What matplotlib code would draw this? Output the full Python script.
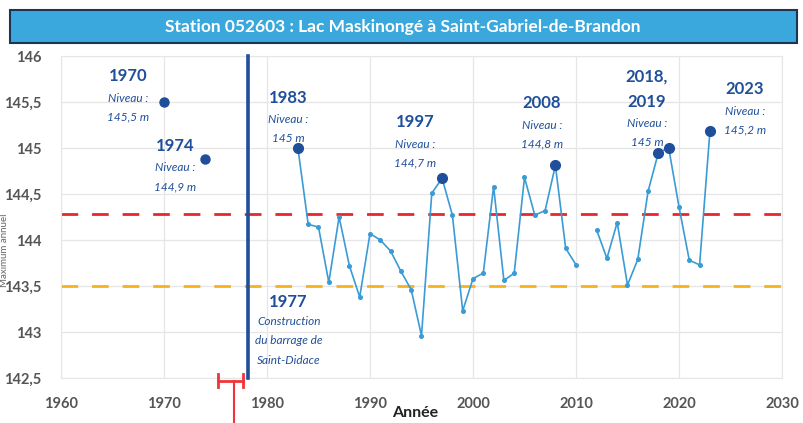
import numpy as np
import matplotlib
matplotlib.use("Agg")
import matplotlib.pyplot as plt
from matplotlib.patches import Rectangle
from matplotlib.ticker import FuncFormatter, MultipleLocator

# ---- data ----
years = list(range(1983, 2024))
levels = [145.0, 144.17, 144.14, 143.54, 144.25, 143.72, 143.38, 144.07, 144.0, 143.88,
          143.66, 143.46, 142.96, 144.51, 144.67, 144.27, 143.23, 143.58, 143.64, 144.58,
          143.56, 143.64, 144.68, 144.27, 144.32, 144.81, 143.91, 143.73, np.nan, 144.11,
          143.80, 144.19, 143.51, 143.79, 144.53, 144.95, 145.0, 144.36, 143.78, 143.73,
          145.18]
early_years = [1970, 1974]
early_levels = [145.5, 144.88]
highlight_years = [1983, 1997, 2008, 2018, 2019, 2023]
red_threshold = 144.28
orange_threshold = 143.5
dam_year = 1978.2
x_ticks = [1960, 1970, 1980, 1990, 2000, 2010, 2020, 2030]
y_ticks = [142.5, 143, 143.5, 144, 144.5, 145, 145.5, 146]
title = "Station 052603 : Lac Maskinongé à Saint-Gabriel-de-Brandon"

W, H = 804, 423
DARK = "#1f4f9a"
LIGHT = "#3a9bd5"
FONT = ["Lato", "DejaVu Sans"]
plt.rcParams["font.family"] = FONT

fig = plt.figure(figsize=(W / 100, H / 100), dpi=100)
L, R, T, B = 61, 782, 56, 378
ax = fig.add_axes([L / W, 1 - B / H, (R - L) / W, (B - T) / H])
ax.set_xlim(1960, 2030)
ax.set_ylim(142.5, 146)

def px(x, y):
    """figure pixel -> data coords"""
    xd = 1960 + (x - L) / (R - L) * 70
    yd = 146 - (y - T) / (B - T) * 3.5
    return xd, yd

ax.set_yticks(y_ticks)
ax.set_xticks(x_ticks)
ax.yaxis.set_major_formatter(FuncFormatter(lambda v, p: (f"{v:g}").replace(".", ",")))
ax.grid(True, color="#e6e6e6", lw=0.9)
ax.set_axisbelow(True)
for s in ax.spines.values():
    s.set_color("#e6e6e6")
ax.tick_params(length=0, labelsize=10.5, colors="#555555", pad=14)
for lab in ax.get_xticklabels() + ax.get_yticklabels():
    lab.set_fontweight("bold")

# thresholds
ax.axhline(red_threshold, color="#e8262b", lw=2, dashes=(6, 5))
ax.axhline(orange_threshold, color="#f7b21c", lw=2, dashes=(6, 5))

# main series
ax.plot(years, levels, color=LIGHT, lw=1.2, marker="o", ms=2.6, zorder=3)
hl = [levels[years.index(y)] for y in highlight_years]
ax.plot(highlight_years, hl, "o", color=DARK, ms=7, zorder=4, ls="none")
ax.plot(early_years, early_levels, "o", color=DARK, ms=6.5, zorder=4, ls="none")

# dam line
ax.plot([dam_year, dam_year], [142.5, 146], color=DARK, lw=2.6, zorder=5, clip_on=False)

# red bracket below axis
fig.add_artist(plt.Line2D([217.7 / W, 243.3 / W], [1 - 380.5 / H] * 2, color="#f0343a", lw=2))
fig.add_artist(plt.Line2D([217.7 / W] * 2, [1 - 374 / H, 1 - 387 / H], color="#f0343a", lw=2))
fig.add_artist(plt.Line2D([243.3 / W] * 2, [1 - 374 / H, 1 - 387 / H], color="#f0343a", lw=2))
fig.add_artist(plt.Line2D([234.3 / W] * 2, [1 - 380.5 / H, 0], color="#f0343a", lw=1.5))

# annotations
def note(x, y_year, lines, extra_years=None):
    yy = y_year
    heads = [lines[0]] if extra_years is None else extra_years
    for h in heads:
        ax.text(*px(x, yy), h, ha="center", va="center", color=DARK,
                fontsize=12, fontweight="bold")
        yy += 25
    yy -= 3
    for t in lines[1:]:
        ax.text(*px(x, yy), t, ha="center", va="center", color=DARK,
                fontsize=8.5, style="italic")
        yy += 19

note(128, 76, ["1970", "Niveau :", "145,5 m"])
note(175, 146, ["1974", "Niveau :", "144,9 m"])
note(288, 98, ["1983", "Niveau :", "145 m"])
note(415, 122, ["1997", "Niveau :", "144,7 m"])
note(542, 103, ["2008", "Niveau :", "144,8 m"])
note(647, 77, [None, "Niveau :", "145 m"], extra_years=["2018,", "2019"])
note(745, 89, ["2023", "Niveau :", "145,2 m"])

ax.text(*px(288, 302), "1977", ha="center", va="center", color=DARK,
        fontsize=12, fontweight="bold")
for i, t in enumerate(["Construction", "du barrage de", "Saint-Didace"]):
    ax.text(*px(289, 321 + 19.5 * i), t, ha="center", va="center", color=DARK,
            fontsize=8.5, style="italic")

# axis labels
fig.text(415 / W, 1 - 413 / H, "Année", ha="center", va="center",
         fontsize=11.5, fontweight="bold", color="#222222")
fig.text(5 / W, 1 - 250 / H, "Maximum annuel", ha="center", va="center",
         rotation=90, fontsize=7, color="#666666")

# title bar
fig.add_artist(Rectangle((10 / W, 1 - 43 / H), 787 / W, 33 / H, transform=fig.transFigure,
                         facecolor="#3aa8dc", edgecolor="#1c3550", lw=1.5))
fig.text(403 / W, 1 - 27 / H, title, ha="center", va="center", color="white",
         fontsize=12.5, fontweight="bold")

fig.savefig("out.png", dpi=100)
